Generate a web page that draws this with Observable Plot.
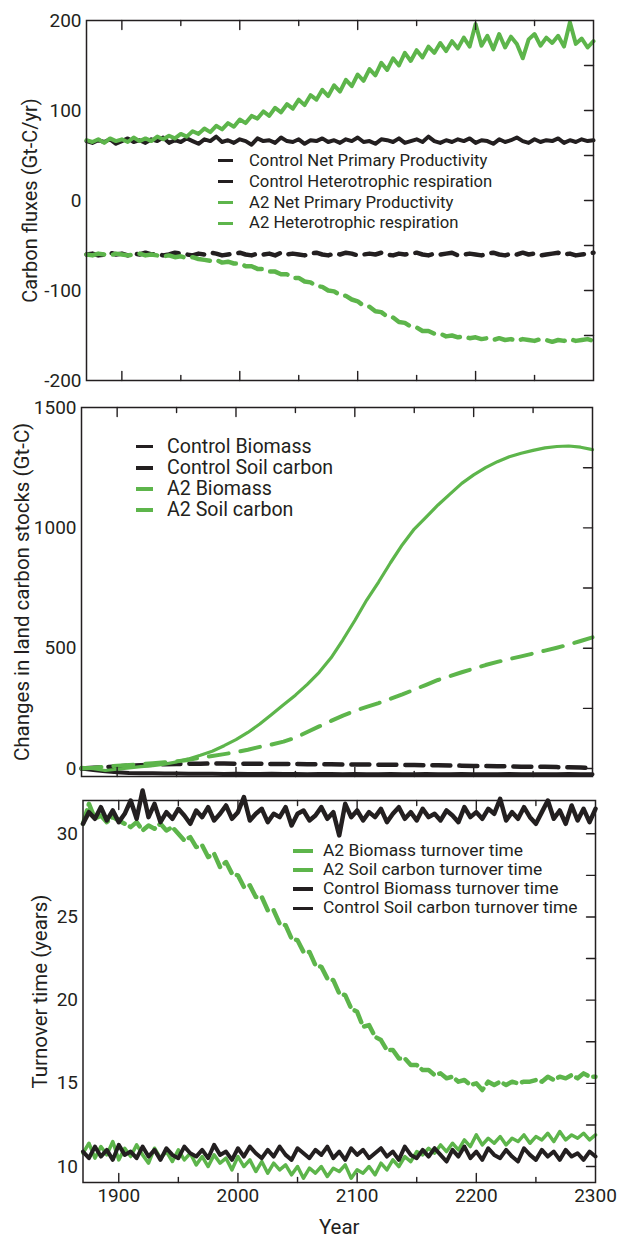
<!DOCTYPE html>
<html><head><meta charset="utf-8">
<script src="https://cdn.jsdelivr.net/npm/d3@7"></script>
<script src="https://cdn.jsdelivr.net/npm/@observablehq/plot@0.6"></script>
<style>
body{margin:0;background:#fff;}
#chart{position:relative;width:620px;height:1237px;font-family:Roboto,sans-serif;color:#231f20;}
#chart svg{display:block;}
.lt{position:absolute;white-space:nowrap;line-height:1;transform:translateY(-50%);}
.ls{position:absolute;}
</style></head><body><div id="chart"></div>
<script>
// ---------- data ----------
const years5 = d3.range(1870, 2301, 5);   // 87 years
const years10 = d3.range(1870, 2301, 10); // 44 years

// Panel 1: carbon fluxes (Gt-C/yr), every 5 years
const ctrlNPP = [
 66,64,67,65,68,63,66,69,65,67,
 64,68,66,70,64,67,65,69,66,63,
 68,66,71,65,67,64,68,66,62,69,
 66,67,64,70,66,65,68,63,67,66,
 69,65,67,64,68,66,70,65,66,63,
 68,67,65,69,64,66,68,65,71,66,
 64,67,65,68,66,69,64,67,66,63,
 68,65,67,70,66,64,68,65,67,66,
 69,64,67,65,68,66,67];
const ctrlRh = [
 -60,-59,-61,-60,-58,-60,-59,-61,-59,-60,
 -58,-60,-59,-61,-60,-58,-59,-60,-61,-59,
 -60,-58,-59,-61,-60,-59,-58,-60,-61,-59,
 -60,-59,-61,-58,-60,-59,-60,-61,-59,-58,
 -60,-61,-59,-60,-58,-59,-61,-60,-59,-60,
 -58,-60,-61,-59,-60,-59,-58,-60,-61,-59,
 -60,-59,-58,-61,-60,-59,-60,-61,-59,-58,
 -60,-61,-59,-60,-58,-60,-59,-61,-60,-59,
 -58,-60,-59,-61,-60,-59,-58];
const a2NPP = [
 67,65,68,64,69,66,68,65,70,66,
 69,66,71,68,72,69,74,71,77,74,
 80,76,83,79,86,82,90,86,94,91,
 99,94,103,98,107,102,112,106,117,112,
 123,116,128,121,134,127,140,133,146,139,
 153,145,158,150,164,155,167,159,171,164,
 175,166,177,169,181,171,196,172,183,168,
 185,170,182,174,158,179,185,172,181,175,
 183,171,198,174,180,170,177];
const a2Rh = [
 -60,-61,-59,-60,-61,-59,-60,-61,-60,-59,
 -61,-60,-61,-62,-61,-63,-62,-64,-63,-65,
 -66,-67,-66,-69,-68,-70,-70,-73,-73,-76,
 -76,-79,-79,-82,-82,-86,-86,-90,-91,-95,
 -96,-100,-101,-105,-106,-110,-112,-117,-118,-123,
 -124,-129,-130,-135,-136,-140,-141,-145,-145,-148,
 -148,-151,-150,-152,-151,-153,-152,-154,-153,-155,
 -153,-155,-154,-156,-154,-155,-156,-154,-155,-157,
 -155,-156,-154,-156,-155,-154,-156];

// Panel 2: changes in land carbon stocks (Gt-C), every 10 years
const ctrlBiomass = [0,-6,-11,-15,-18,-19,-20,-21,-21,-22, -22,-22,-23,-22,-23,-23,-22,-23,-23,-24,
 -23,-23,-24,-23,-24,-24,-23,-24,-24,-23, -24,-24,-23,-24,-24,-24,-23,-24,-24,-24, -24,-23,-24,-24];
const ctrlSoil = [0,3,6,9,12,14,16,18,19,20, 20,21,21,20,20,20,19,19,19,18,
 18,18,17,17,17,16,16,15,15,14, 14,13,12,11,11,10,9,8,8,7, 6,5,4,3];
const a2Biomass = [5,0,-8,-3,3,8,12,18,28,40, 55,72,95,120,150,185,225,265,305,350,
 400,460,535,615,700,775,855,930,995,1045, 1095,1140,1185,1220,1250,1275,1295,1310,1322,1332,
 1338,1340,1335,1325];
const a2Soil = [0,3,8,12,15,18,22,26,30,36, 45,52,60,68,78,90,100,112,128,152,
 175,198,220,240,256,272,290,308,328,348, 368,384,400,415,430,443,455,466,478,490,
 502,515,530,545];

// Panel 3: turnover time (years), every 5 years
const a2BioTurn = [
 10.8,11.4,10.5,11.2,10.7,11.5,10.4,11.1,10.6,11.3,
 10.7,10.2,11.1,10.5,10.9,10.3,11.0,10.4,10.8,10.1,
 10.6,10.0,10.7,10.2,10.5,9.8,10.6,10.0,10.4,9.7,
 10.3,9.6,10.2,9.8,10.1,9.5,10.0,9.3,9.9,9.6,
 10.0,9.4,9.9,9.7,10.1,9.3,9.8,9.6,10.0,9.5,
 10.2,9.8,10.4,10.0,10.6,10.3,10.9,10.7,11.1,10.8,
 11.3,10.9,11.4,11.0,11.6,11.2,11.9,11.3,11.7,11.4,
 11.8,11.3,11.7,11.5,11.9,11.4,11.8,11.6,12.0,11.5,
 12.1,11.6,11.9,11.7,12.0,11.6,11.9];
const a2SoilTurn = [
 30.6,31.8,30.9,31.1,30.7,31.0,30.8,30.6,30.4,30.7,
 30.2,30.5,30.3,30.6,30.2,30.4,30.0,29.6,29.8,29.2,
 29.3,28.6,28.8,28.0,28.3,27.6,27.5,26.8,26.9,26.2,
 26.2,25.4,25.4,24.6,24.5,23.7,23.6,22.9,22.9,22.1,
 22.0,21.3,21.2,20.4,20.3,19.5,19.3,18.4,18.5,17.8,
 17.6,17.0,17.0,16.5,16.5,16.1,16.1,15.8,15.8,15.5,
 15.6,15.3,15.4,15.1,15.2,14.9,15.0,14.6,15.1,14.9,
 15.1,14.9,15.1,15.0,15.1,15.1,15.2,15.1,15.4,15.2,
 15.4,15.3,15.5,15.3,15.6,15.4,15.4];
const ctrlBioTurn = [
 10.9,10.5,11.2,10.6,11.0,10.4,11.3,10.7,10.9,10.5,
 11.2,10.6,11.0,10.4,11.1,10.7,10.5,11.2,10.8,10.6,
 11.0,10.5,11.3,10.7,10.9,10.4,11.1,10.6,11.2,10.8,
 10.5,11.0,10.6,11.2,10.7,10.4,11.1,10.8,10.5,11.0,
 10.7,11.2,10.5,10.9,10.4,11.1,10.7,11.0,10.5,10.8,
 11.1,10.6,10.9,10.4,11.2,10.7,10.5,11.0,10.6,11.1,
 10.7,10.3,11.0,10.6,11.2,10.5,10.9,10.4,11.1,10.7,
 10.5,11.0,10.6,10.3,11.1,10.7,10.4,11.0,10.6,10.9,
 10.4,11.0,10.6,10.8,10.4,10.9,10.6];
const ctrlSoilTurn = [
 30.6,31.3,30.9,31.6,30.8,31.4,30.7,31.2,32.0,30.9,
 32.6,31.0,31.8,30.7,31.3,30.9,31.5,31.1,30.6,31.4,
 31.0,31.6,30.8,31.2,31.7,30.9,31.3,32.2,30.8,31.2,
 31.5,30.7,31.2,31.0,31.6,30.5,31.2,31.4,30.8,31.1,
 31.6,30.9,31.3,29.9,31.8,31.0,31.4,30.8,31.3,31.0,
 31.5,30.7,31.2,31.6,30.9,31.3,30.8,31.5,31.0,31.2,
 30.8,31.4,31.1,30.7,31.6,31.0,31.3,30.9,31.5,31.2,
 32.1,30.8,31.3,30.9,31.6,31.0,30.6,31.3,32.0,30.9,
 31.4,30.6,31.7,30.8,31.5,30.7,31.5];

// ticks & labels
const xDomain = [1870, 2300];
const xLabels = [1900, 2000, 2100, 2200, 2300];
const xMajor = [1900, 2000, 2100, 2200];
const xMinor = [1950, 2050, 2150, 2250];
const fluxLabels = [-200, -100, 0, 100, 200];
const fluxRight = [-150, -100, -50, 0, 50, 100, 150];
const stockLabels = [0, 500, 1000, 1500];
const stockRight = [0, 250, 500, 750, 1000, 1250];
const turnLabels = [10, 15, 20, 25, 30];
const turnRight = [10, 12.5, 15, 17.5, 20, 22.5, 25, 27.5, 30];

const fluxTitle = "Carbon fluxes (Gt-C/yr)";
const stockTitle = "Changes in land carbon stocks (Gt-C)";
const turnTitle = "Turnover time (years)";
const xTitle = "Year";
const fluxLegend = ["Control Net Primary Productivity", "Control Heterotrophic respiration", "A2 Net Primary Productivity", "A2 Heterotrophic respiration"];
const stockLegend = ["Control Biomass", "Control Soil carbon", "A2 Biomass", "A2 Soil carbon"];
const turnLegend = ["A2 Biomass turnover time", "A2 Soil carbon turnover time", "Control Biomass turnover time", "Control Soil carbon turnover time"];

// ---------- drawing ----------
const INK = "#231f20", GREEN = "#5db54b";
const FONT = "Roboto, sans-serif";
const rows = (yrs, vals) => vals.map((v, i) => ({year: yrs[i], value: v}));
const tickShape = {draw(ctx, l) { ctx.moveTo(0, 0); ctx.lineTo(0, -l); }};
const tk = {anchor: "start", shape: tickShape, stroke: INK, strokeWidth: 1.4};
function frameTicks(yRight) {
  return [
    Plot.vector(xMajor, {x: d => d, frameAnchor: "top", rotate: 180, length: 9, ...tk}),
    Plot.vector(xMinor, {x: d => d, frameAnchor: "top", rotate: 180, length: 5, ...tk}),
    Plot.vector(xMajor, {x: d => d, frameAnchor: "bottom", rotate: 0, length: 9, ...tk}),
    Plot.vector(xMinor, {x: d => d, frameAnchor: "bottom", rotate: 0, length: 5, ...tk}),
    Plot.vector(yRight, {y: d => d, frameAnchor: "right", rotate: -90, length: 9, ...tk})
  ];
}
const ln = (yrs, vals, stroke, w, dash) => Plot.line(rows(yrs, vals), {x: "year", y: "value", stroke, strokeWidth: w, strokeDasharray: dash, strokeLinejoin: "round"});
const title = (t, dx, fs) => Plot.text([t], {frameAnchor: "left", textAnchor: "middle", lineAnchor: "middle", dx, rotate: -90, fontSize: fs, fill: INK});
const style = {fontFamily: FONT, color: INK, background: "transparent", overflow: "visible"};

const chart = document.getElementById("chart");

const p1 = Plot.plot({
  width: 620, height: 392, marginTop: 20, marginBottom: 12, marginLeft: 86, marginRight: 27,
  x: {domain: xDomain, axis: null}, y: {domain: [-200, 200], axis: null}, style,
  marks: [
    Plot.axisY(fluxLabels, {anchor: "left", tickSize: 0, tickPadding: 5, fontSize: 19, tickFormat: d => String(d), label: null}),
    ln(years5, ctrlRh, INK, 4.5, "17,9"),
    ln(years5, ctrlNPP, INK, 4),
    ln(years5, a2Rh, GREEN, 4.5, "18,9"),
    ln(years5, a2NPP, GREEN, 4),
    Plot.frame({stroke: INK, strokeWidth: 1.5}),
    ...frameTicks(fluxRight),
    title(fluxTitle, -56, 20)
  ]
});
const p2 = Plot.plot({
  width: 620, height: 388, marginTop: 15, marginBottom: 4, marginLeft: 81, marginRight: 28,
  x: {domain: xDomain, axis: null}, y: {domain: [-33, 1500], axis: null}, style,
  marks: [
    Plot.axisY(stockLabels, {anchor: "left", tickSize: 0, tickPadding: 5, fontSize: 19, tickFormat: d => String(d), label: null}),
    ln(years10, ctrlBiomass, INK, 4),
    ln(years10, ctrlSoil, INK, 4.5, "18,9"),
    ln(years10, a2Soil, GREEN, 4, "20,12"),
    ln(years10, a2Biomass, GREEN, 3.2),
    Plot.frame({stroke: INK, strokeWidth: 1.5}),
    ...frameTicks(stockRight),
    title(stockTitle, -59, 20.5)
  ]
});
const p3 = Plot.plot({
  width: 620, height: 457, marginTop: 20, marginBottom: 55, marginLeft: 82.5, marginRight: 25,
  x: {domain: xDomain, axis: null}, y: {domain: [9.04, 32], axis: null}, style,
  marks: [
    Plot.axisY(turnLabels, {anchor: "left", tickSize: 0, tickPadding: 5, fontSize: 19, tickFormat: d => String(d), label: null}),
    Plot.axisX(xLabels, {anchor: "bottom", tickSize: 0, tickPadding: 6, fontSize: 19, tickFormat: d => String(d), label: null}),
    ln(years5, a2BioTurn, GREEN, 3.5),
    ln(years5, a2SoilTurn, GREEN, 4.5, "14,6"),
    ln(years5, ctrlBioTurn, INK, 4),
    ln(years5, ctrlSoilTurn, INK, 4.5),
    Plot.frame({stroke: INK, strokeWidth: 1.5}),
    ...frameTicks(turnRight),
    title(turnTitle, -42.5, 20.5),
    Plot.text([xTitle], {frameAnchor: "bottom", lineAnchor: "middle", dy: 45, fontSize: 20.5, fill: INK})
  ]
});
chart.append(p1, p2, p3);

function legend(labels, colors, o) {
  labels.forEach((lab, i) => {
    const y = o.top + i * o.step;
    const s = document.createElement("div");
    s.className = "ls";
    Object.assign(s.style, {left: o.sx + "px", top: (y - 1.8) + "px", width: o.sw + "px", height: "3.6px", background: colors[i]});
    const t = document.createElement("div");
    t.className = "lt";
    t.textContent = lab;
    Object.assign(t.style, {left: o.tx + "px", top: y + "px", fontSize: o.fs + "px"});
    chart.append(s, t);
  });
}
legend(fluxLegend, [INK, INK, GREEN, GREEN], {sx: 218, sw: 15, tx: 249, top: 160.7, step: 20.9, fs: 16.7});
legend(stockLegend, [INK, INK, GREEN, GREEN], {sx: 136, sw: 17, tx: 167, top: 446.7, step: 21.1, fs: 19.6});
legend(turnLegend, [GREEN, GREEN, INK, INK], {sx: 293, sw: 20, tx: 323, top: 851, step: 19.1, fs: 17.4});
</script></body></html>
